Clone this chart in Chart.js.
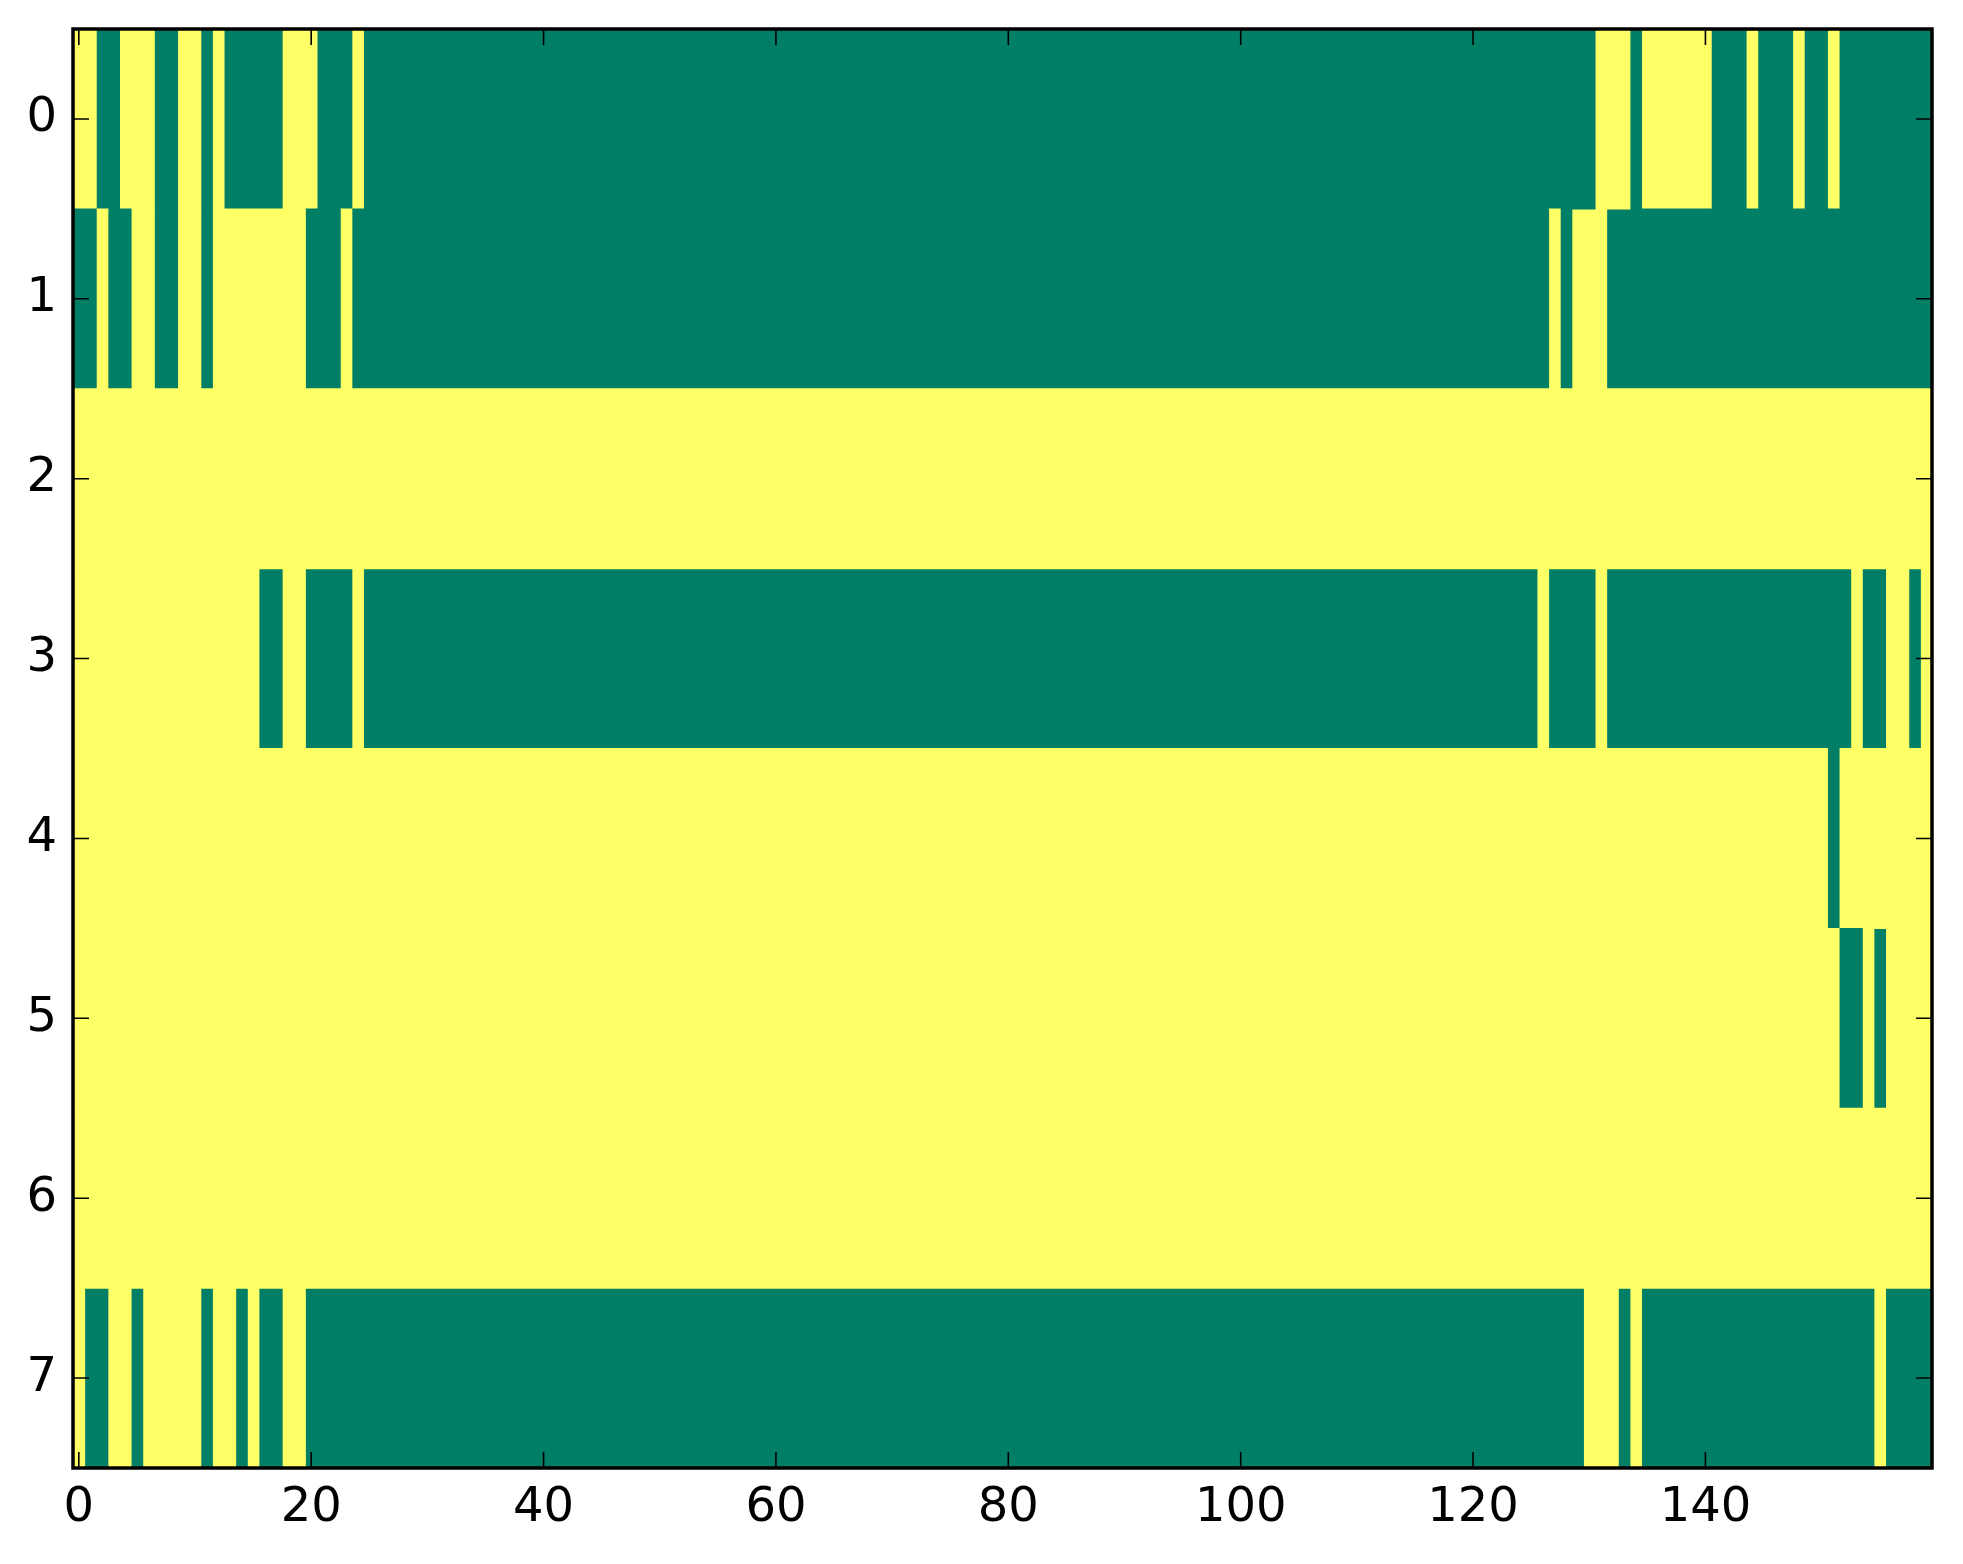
<!DOCTYPE html>
<html>
<head>
<meta charset="utf-8">
<script src="https://cdn.jsdelivr.net/npm/chart.js@4/dist/chart.umd.min.js"></script>
<style>
  html, body { margin: 0; padding: 0; background: #ffffff; }
  #wrap { width: 1963px; height: 1564px; }
</style>
</head>
<body>
<div id="wrap"><canvas id="c" width="1963" height="1564"></canvas></div>
<script>
// Row labels (y categories) and x tick labels
const rowLabels = ['0', '1', '2', '3', '4', '5', '6', '7'];
const xTickValues = [0, 20, 40, 60, 80, 100, 120, 140];
const nCols = 160;

// Cell values of each row, as runs of [value, number of columns] (0 = yellow, 1 = green)
const row0 = [[0,2],[1,2],[0,3],[1,2],[0,2],[1,1],[0,1],[1,5],[0,3],[1,3],[0,1],[1,106],[0,3],[1,1],[0,6],[1,3],[0,1],[1,3],[0,1],[1,2],[0,1],[1,8]];
const row1 = [[1,2],[0,1],[1,2],[0,2],[1,2],[0,2],[1,1],[0,8],[1,3],[0,1],[1,103],[0,1],[1,1],[0,3],[1,28]];
const row2 = [[0,160]];
const row3 = [[0,16],[1,2],[0,2],[1,4],[0,1],[1,101],[0,1],[1,4],[0,1],[1,21],[0,1],[1,2],[0,2],[1,1],[0,1]];
const row4 = [[0,151],[1,1],[0,8]];
const row5 = [[0,152],[1,2],[0,1],[1,1],[0,4]];
const row6 = [[0,160]];
const row7 = [[0,1],[1,2],[0,2],[1,1],[0,5],[1,1],[0,2],[1,1],[0,1],[1,2],[0,2],[1,110],[0,3],[1,1],[0,1],[1,20],[0,1],[1,4]];

const colorMap = ['#ffff66', '#007f66'];

const rows = [row0, row1, row2, row3, row4, row5, row6, row7];
const rowRuns = rows.map(function (r) {
  let pos = 0;
  return r.map(function (p) {
    const run = { v: p[0], start: pos, len: p[1] };
    pos += p[1];
    return run;
  });
});
const maxRuns = Math.max.apply(null, rowRuns.map(r => r.length));
const datasets = [];
for (let k = 0; k < maxRuns; k++) {
  datasets.push({
    data: rowRuns.map(r => r[k] ? [r[k].start - 0.5, r[k].start + r[k].len - 0.5] : null),
    backgroundColor: rowRuns.map(r => r[k] ? colorMap[r[k].v] : 'rgba(0,0,0,0)'),
    borderWidth: 0,
    barPercentage: 1,
    categoryPercentage: 1,
    grouped: false,
    inflateAmount: 0.5
  });
}

const FONT = { family: 'DejaVu Sans', size: 48 };
const TICK_LEN = 16;

const framePlugin = {
  id: 'frame',
  beforeDraw(chart) {
    const ctx = chart.ctx;
    ctx.save();
    ctx.fillStyle = '#ffffff';
    ctx.fillRect(0, 0, chart.width, chart.height);
    ctx.restore();
  },
  afterDraw(chart) {
    const ctx = chart.ctx;
    const a = chart.chartArea;
    const xs = chart.scales.x, ys = chart.scales.y;
    ctx.save();
    ctx.strokeStyle = '#000000';
    ctx.lineWidth = 1.6;
    ctx.beginPath();
    rowLabels.forEach(function (lab, i) {
      const y = ys.getPixelForValue(i);
      ctx.moveTo(a.left, y); ctx.lineTo(a.left + TICK_LEN, y);
      ctx.moveTo(a.right, y); ctx.lineTo(a.right - TICK_LEN, y);
    });
    xTickValues.forEach(function (v) {
      const x = xs.getPixelForValue(v);
      ctx.moveTo(x, a.bottom); ctx.lineTo(x, a.bottom - TICK_LEN);
      ctx.moveTo(x, a.top); ctx.lineTo(x, a.top + TICK_LEN);
    });
    ctx.stroke();
    ctx.lineWidth = 3.5;
    ctx.strokeRect(a.left, a.top, a.right - a.left, a.bottom - a.top);
    ctx.restore();
  }
};

new Chart(document.getElementById('c'), {
  type: 'bar',
  data: { labels: rowLabels, datasets: datasets },
  options: {
    indexAxis: 'y',
    responsive: false,
    devicePixelRatio: 1,
    animation: false,
    layout: { padding: { top: 29, right: 31, left: 0, bottom: 0 } },
    plugins: { legend: { display: false }, tooltip: { enabled: false } },
    scales: {
      x: {
        type: 'linear',
        min: -0.5,
        max: nCols - 0.5,
        grid: { display: false, drawTicks: false },
        border: { display: false },
        afterBuildTicks(scale) { scale.ticks = xTickValues.map(v => ({ value: v })); },
        afterFit(scale) { scale.height = 96; scale.paddingLeft = 0; scale.paddingRight = 0; },
        ticks: {
          font: FONT,
          color: '#000000',
          padding: 12,
          maxRotation: 0,
          autoSkip: false,
          callback: (v) => String(v)
        }
      },
      y: {
        type: 'category',
        offset: true,
        grid: { display: false, drawTicks: false },
        border: { display: false },
        afterFit(scale) { scale.width = 73; scale.paddingTop = 0; scale.paddingBottom = 0; },
        ticks: {
          font: FONT,
          color: '#000000',
          padding: 16,
          autoSkip: false
        }
      }
    }
  },
  plugins: [framePlugin]
});
</script>
</body>
</html>
